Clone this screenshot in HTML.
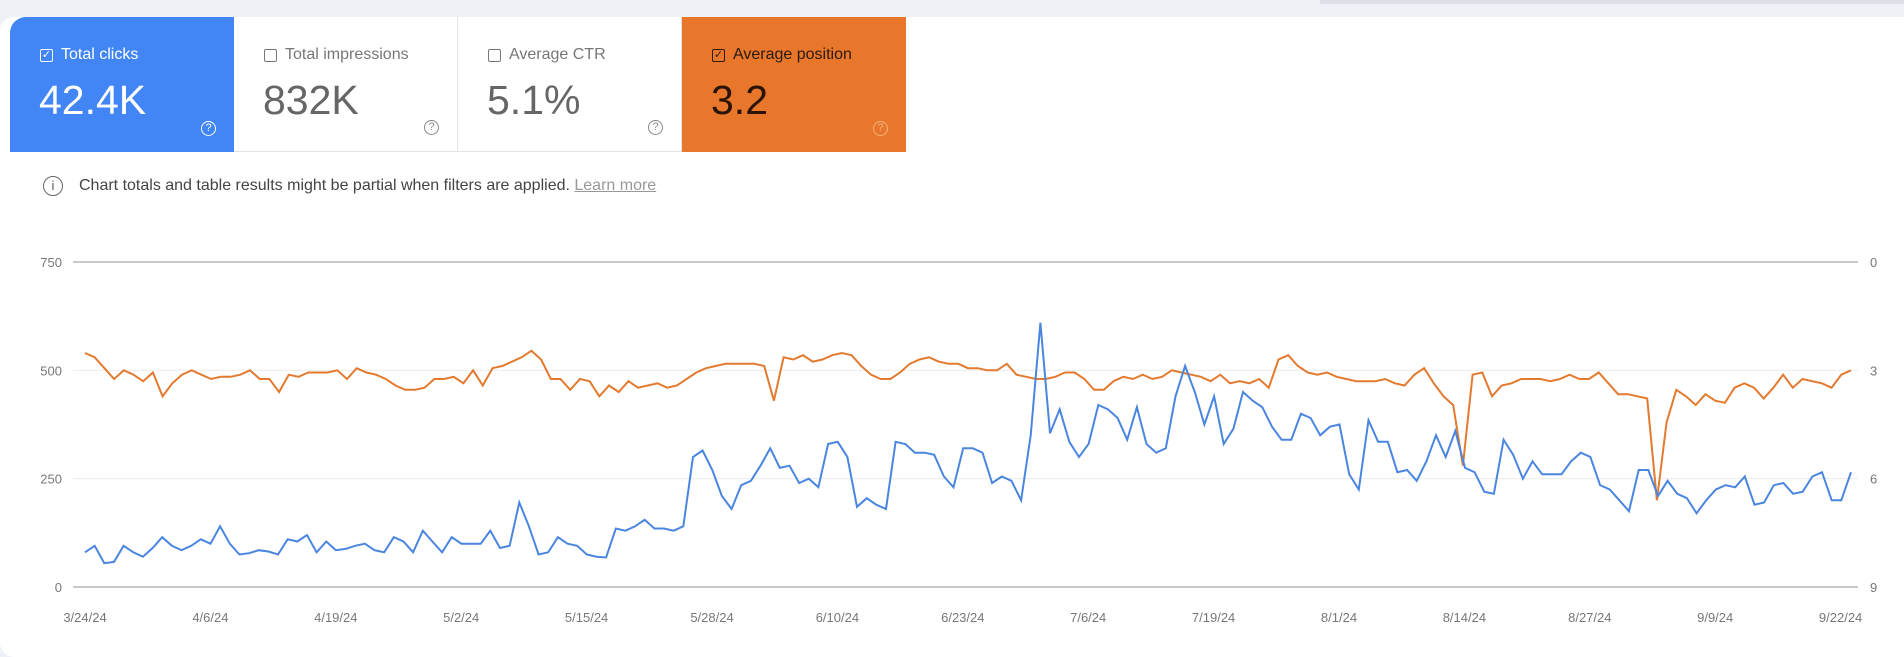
<!DOCTYPE html>
<html><head><meta charset="utf-8"><style>
body{margin:0;width:1904px;height:652px;background:#eef1f6;font-family:"Liberation Sans",sans-serif;overflow:hidden;position:relative}
.panel{position:absolute;left:0;top:17px;width:1904px;height:640px;background:#fff;border-radius:14px 0 0 14px}
.topbar{position:absolute;left:1320px;top:0;width:584px;height:4px;background:#dde1e7}
.card{position:absolute;top:17px;height:135px;width:224px;box-sizing:border-box;border-right:1px solid #e3e3e3;border-bottom:1px solid #e3e3e3}
.lab{position:absolute;left:30px;top:29px;font-size:16px;display:flex;align-items:center;gap:8px}
.cb{width:13px;height:13px;border:1.5px solid currentColor;border-radius:2px;box-sizing:border-box;position:relative;font-size:11px;line-height:10px;text-align:center}
.val{position:absolute;left:29px;top:60px;font-size:41px}
.q{position:absolute;right:18px;bottom:16px;width:15px;height:15px;border:1.5px solid currentColor;border-radius:50%;font-size:11px;text-align:center;box-sizing:border-box;line-height:12px}
</style></head><body>
<div class="topbar"></div>
<div class="panel"></div>
<div class="card" style="left:10px;background:#4285f4;color:#fff;border-radius:16px 0 0 0;border:none"><div class="lab"><span class="cb">✓</span>Total clicks</div><div class="val">42.4K</div><div class="q">?</div></div>
<div class="card" style="left:234px;background:#fff;color:#666"><div class="lab" style="color:#777"><span class="cb"></span>Total impressions</div><div class="val" style="color:#666">832K</div><div class="q" style="color:#888">?</div></div>
<div class="card" style="left:458px;background:#fff;color:#666"><div class="lab" style="color:#777"><span class="cb"></span>Average CTR</div><div class="val">5.1%</div><div class="q" style="color:#888">?</div></div>
<div class="card" style="left:682px;background:#e8772b;color:#222;border:none"><div class="lab" style="color:#2a1a10"><span class="cb">✓</span>Average position</div><div class="val" style="color:#2a1408">3.2</div><div class="q" style="color:#f5b27e">?</div></div>
<div style="position:absolute;left:43px;top:176px;width:20px;height:20px;border:1.5px solid #666;border-radius:50%;box-sizing:border-box;text-align:center;font-size:13px;line-height:18px;color:#555">i</div>
<div style="position:absolute;left:79px;top:177px;font-size:16px;color:#444">Chart totals and table results might be partial when filters are applied. <span style="color:#999;text-decoration:underline">Learn more</span></div>
<svg id="s" width="1904" height="652" style="position:absolute;left:0;top:0"></svg>
<script>
const B=[80,95,55,58,95,80,70,90,115,95,85,95,110,100,140,100,75,78,85,82,75,110,105,120,80,105,85,88,95,100,85,80,115,105,80,130,105,80,115,100,100,100,130,90,95,195,140,75,80,115,100,95,75,70,68,135,130,140,155,135,135,130,140,300,315,270,210,180,235,245,280,320,275,280,240,250,230,330,335,300,185,205,190,180,335,330,310,310,305,255,230,320,320,310,240,255,245,200,350,610,355,410,335,300,330,420,410,390,340,415,330,310,320,440,510,450,375,440,330,365,450,430,415,370,340,340,400,390,350,370,375,260,225,385,335,335,265,270,245,290,350,300,360,275,265,220,215,340,305,250,290,260,260,260,290,310,300,235,225,200,175,270,270,210,245,215,205,170,200,225,235,230,255,190,195,235,240,215,220,255,265,200,200,265];
const O=[540,530,505,480,500,490,475,495,440,470,490,500,490,480,485,485,490,500,480,480,450,490,485,495,495,495,500,480,505,495,490,480,465,455,455,460,480,480,485,470,500,465,505,510,520,530,545,525,480,480,455,480,475,440,465,450,475,460,465,470,460,465,480,495,505,510,515,515,515,515,510,430,530,525,535,520,525,535,540,535,510,490,480,480,495,515,525,530,520,515,515,505,505,500,500,515,490,485,480,480,485,495,495,480,455,455,475,485,480,490,480,485,500,495,490,485,475,490,470,475,470,480,460,525,535,510,495,490,495,485,480,475,475,475,480,470,465,490,505,470,440,420,280,490,495,440,465,470,480,480,480,475,480,490,480,480,495,470,445,445,440,435,200,380,455,440,420,445,430,425,460,470,460,435,460,490,460,480,475,470,460,490,500];
const x0=85,x1=1851,yT=262,yB=587;
const Y=v=>yB-(v/750)*(yB-yT);
let h='';
[[750,'0'],[500,'3'],[250,'6'],[0,'9']].forEach(([v,r],i)=>{const y=Y(v);
h+=`<line x1="73" x2="1858" y1="${y}" y2="${y}" stroke="${i==0||i==3?'#c8c8c8':'#ececec'}" stroke-width="${i==0||i==3?2:1}"/>`;
h+=`<text x="62" y="${y+5}" text-anchor="end" font-size="13" fill="#777">${v}</text><text x="1870" y="${y+5}" font-size="13" fill="#777">${r}</text>`;});
const L=['3/24/24','4/6/24','4/19/24','5/2/24','5/15/24','5/28/24','6/10/24','6/23/24','7/6/24','7/19/24','8/1/24','8/14/24','8/27/24','9/9/24','9/22/24'];
L.forEach((t,i)=>{h+=`<text x="${85+i*125.4}" y="622" text-anchor="middle" font-size="13" fill="#777">${t}</text>`});
const P=a=>a.map((v,i)=>(x0+i*(x1-x0)/(a.length-1)).toFixed(1)+','+Y(v).toFixed(1)).join(' ');
h+=`<polyline points="${P(O)}" fill="none" stroke="#e37a2f" stroke-width="2"/>`;
h+=`<polyline points="${P(B)}" fill="none" stroke="#4a86e0" stroke-width="2"/>`;
document.getElementById('s').innerHTML=h;
</script>
</body></html>
